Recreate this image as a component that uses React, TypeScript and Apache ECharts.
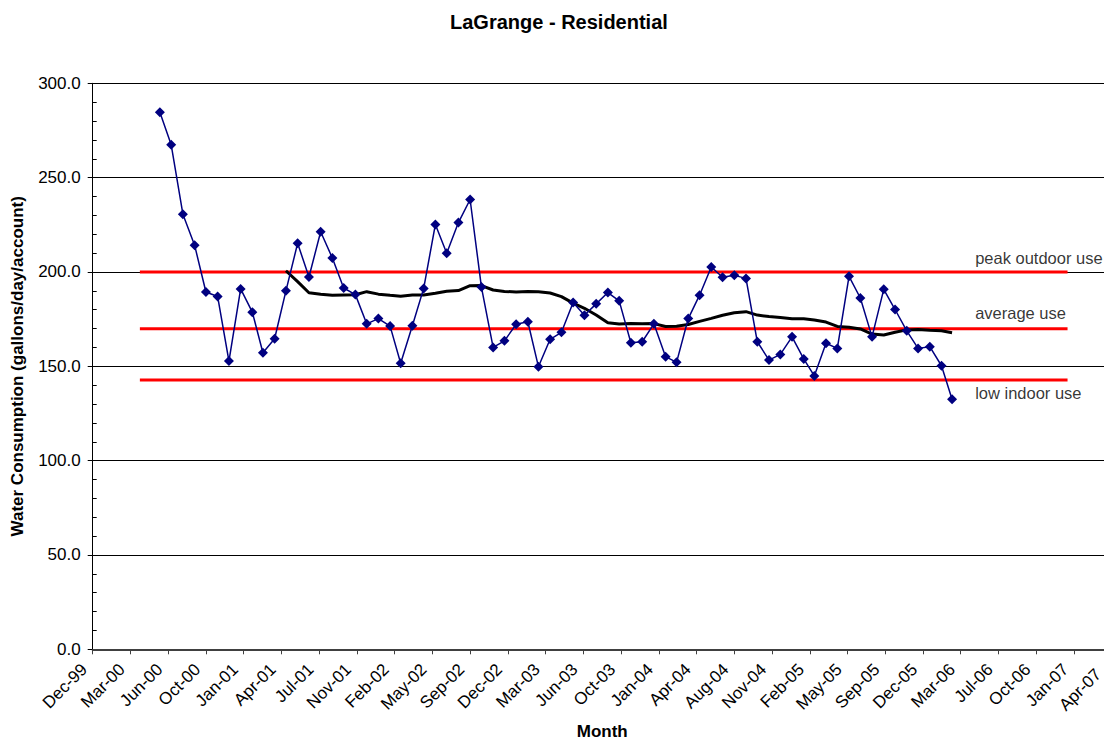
import React, { useEffect, useRef } from 'react';
import * as echarts from 'echarts';

const FONT = 'Arial, "Liberation Sans", sans-serif';

// Monthly readings (first of month)
const monthDates = [
  '2000-06-01', '2000-07-01', '2000-08-01', '2000-09-01', '2000-10-01', '2000-11-01', '2000-12-01',
  '2001-01-01', '2001-02-01', '2001-03-01', '2001-04-01', '2001-05-01', '2001-06-01',
  '2001-07-01', '2001-08-01', '2001-09-01', '2001-10-01', '2001-11-01', '2001-12-01',
  '2002-01-01', '2002-02-01', '2002-03-01', '2002-04-01', '2002-05-01', '2002-06-01',
  '2002-07-01', '2002-08-01', '2002-09-01', '2002-10-01', '2002-11-01', '2002-12-01',
  '2003-01-01', '2003-02-01', '2003-03-01', '2003-04-01', '2003-05-01', '2003-06-01',
  '2003-07-01', '2003-08-01', '2003-09-01', '2003-10-01', '2003-11-01', '2003-12-01',
  '2004-01-01', '2004-02-01', '2004-03-01', '2004-04-01', '2004-05-01', '2004-06-01',
  '2004-07-01', '2004-08-01', '2004-09-01', '2004-10-01', '2004-11-01', '2004-12-01',
  '2005-01-01', '2005-02-01', '2005-03-01', '2005-04-01', '2005-05-01', '2005-06-01',
  '2005-07-01', '2005-08-01', '2005-09-01', '2005-10-01', '2005-11-01', '2005-12-01',
  '2006-01-01', '2006-02-01', '2006-03-01',
];

// Water consumption (gallons/day/account)
const consumption = [
  284.7, 267.4, 230.6, 214.2, 189.4, 187.0, 152.8,
  191.0, 178.7, 157.2, 164.6, 190.0, 215.2,
  197.3, 221.3, 207.4, 191.5, 188.0, 172.5,
  175.3, 171.3, 151.6, 171.5, 191.3, 225.2,
  209.9, 226.2, 238.4, 192.0, 160.0, 163.5,
  172.3, 173.6, 149.8, 164.3, 168.0, 183.8,
  177.1, 183.1, 189.1, 184.7, 162.5, 163.0,
  172.5, 155.1, 152.1, 175.3, 187.7, 202.6,
  197.2, 198.2, 196.6, 163.0, 153.3, 156.3,
  165.6, 153.9, 144.9, 162.2, 159.5, 197.7,
  186.2, 165.6, 190.8, 180.1, 168.8, 159.5,
  160.4, 150.3, 132.5,
];

// Reference levels
const refNames = ['peak outdoor use', 'average use', 'low indoor use'];
const refLevels = [200, 169.9, 142.7];
const refStart = '2000-04-09';
const refEnd = '2007-01-01';
const refLabelDate = '2006-05-01';
const refLabelValues = [207.2, 178.1, 135.7];

// Axes
const xMinSerial = 36500; // Excel serial day (Dec-99)
const xMaxSerial = 39200; // Apr-07
const xStepDays = 100;
const yMin = 0;
const yMax = 300;
const yStep = 50;
const movingAvgPeriod = 12;

const MONTHS = ['Jan', 'Feb', 'Mar', 'Apr', 'May', 'Jun', 'Jul', 'Aug', 'Sep', 'Oct', 'Nov', 'Dec'];

function toSerial(s: string): number {
  const [y, m, d] = s.split('-').map(Number);
  return Date.UTC(y, m - 1, d) / 86400000 + 25569;
}

function serialLabel(v: number): string {
  const dt = new Date((v - 25569) * 86400000);
  const yy = String(dt.getUTCFullYear() % 100).padStart(2, '0');
  return MONTHS[dt.getUTCMonth()] + '-' + yy;
}

export default function App() {
  const ref = useRef<HTMLDivElement>(null);

  useEffect(() => {
    if (!ref.current) return;
    const chart = echarts.init(ref.current, null, { renderer: 'svg' });

    const mainData = monthDates.map((d, i) => [toSerial(d), consumption[i]]);
    const maData: number[][] = [];
    for (let i = movingAvgPeriod - 1; i < consumption.length; i++) {
      let s = 0;
      for (let k = i - movingAvgPeriod + 1; k <= i; k++) s += consumption[k];
      maData.push([toSerial(monthDates[i]), s / movingAvgPeriod]);
    }

    const refSeries = refLevels.map((lv, i) => ({
      name: refNames[i],
      type: 'line',
      data: [[toSerial(refStart), lv], [toSerial(refEnd), lv]],
      symbol: 'none',
      lineStyle: { color: '#ff0000', width: 3 },
      silent: true,
      z: 2,
    }));

    const textStyle = { fontFamily: FONT, color: '#000' };

    chart.setOption({
      animation: false,
      backgroundColor: '#ffffff',
      title: {
        text: 'LaGrange - Residential',
        left: 445,
        top: 7,
        textStyle: { ...textStyle, fontSize: 20, fontWeight: 'bold' },
      },
      grid: {
        left: 92.7,
        top: 83.3,
        width: 1019,
        height: 566,
        containLabel: false,
        outerBoundsMode: 'none',
      },
      xAxis: {
        type: 'value',
        min: xMinSerial,
        max: xMaxSerial,
        interval: xStepDays,
        name: 'Month',
        nameLocation: 'middle',
        nameGap: 74,
        nameTextStyle: { ...textStyle, fontSize: 17, fontWeight: 'bold' },
        axisLine: { show: true, lineStyle: { color: '#404040', width: 2 } },
        axisTick: { show: true, length: 5, lineStyle: { color: '#404040', width: 1 } },
        axisLabel: {
          rotate: 45,
          margin: 9,
          padding: [0, 12, 0, 0],
          formatter: (v: number) =>
            v >= xMaxSerial ? '{edge|' + serialLabel(v) + '}' : serialLabel(v),
          rich: {
            edge: { ...textStyle, fontSize: 17, padding: [0, 7, 0, 0] },
          },
          ...textStyle,
          fontSize: 17,
        },
        splitLine: { show: false },
      },
      yAxis: [
        {
          type: 'value',
          min: yMin,
          max: yMax,
          interval: yStep,
          position: 'left',
          name: 'Water Consumption (gallons/day/account)',
          nameLocation: 'middle',
          nameGap: 67,
          nameTextStyle: { ...textStyle, fontSize: 17, fontWeight: 'bold' },
          axisLine: { show: true, lineStyle: { color: '#000', width: 1 } },
          axisTick: { show: true, length: 5, lineStyle: { color: '#000' } },
          axisLabel: {
            formatter: (v: number) => v.toFixed(1),
            margin: 12,
            ...textStyle,
            fontSize: 17,
          },
          splitLine: { show: true, lineStyle: { color: '#000', width: 1 } },
        },
        {
          type: 'value',
          min: yMin,
          max: yMax,
          interval: yStep,
          position: 'left',
          offset: 0,
          axisLine: { show: false },
          axisTick: { show: false, inside: true },
          axisLabel: { show: false },
          splitLine: { show: false },
          minorTick: { show: true, splitNumber: 5, length: 4, lineStyle: { color: '#000', width: 1 } },
        },
      ],
      series: [
        ...refSeries,
        {
          name: '12 per. Mov. Avg.',
          type: 'line',
          data: maData,
          symbol: 'none',
          lineStyle: { color: '#000', width: 3 },
          z: 3,
        },
        {
          name: 'Residential',
          type: 'line',
          data: mainData,
          symbol: 'diamond',
          symbolSize: 10,
          itemStyle: { color: '#000080' },
          lineStyle: { color: '#000080', width: 1.5 },
          z: 4,
        },
        {
          name: 'labels',
          type: 'scatter',
          data: refLevels.map((_, i) => [toSerial(refLabelDate), refLabelValues[i], refNames[i]]),
          symbolSize: 0.1,
          itemStyle: { color: 'rgba(0,0,0,0)' },
          label: {
            show: true,
            position: 'right',
            distance: 0,
            formatter: (p: any) => p.value[2],
            ...textStyle,
            fontSize: 16.5,
          },
          silent: true,
          z: 5,
        },
      ],
    });

    return () => chart.dispose();
  }, []);

  return (
    <div
      ref={ref}
      style={{ position: 'absolute', left: 0, top: 0, width: 1104, height: 740, background: '#fff' }}
    />
  );
}
